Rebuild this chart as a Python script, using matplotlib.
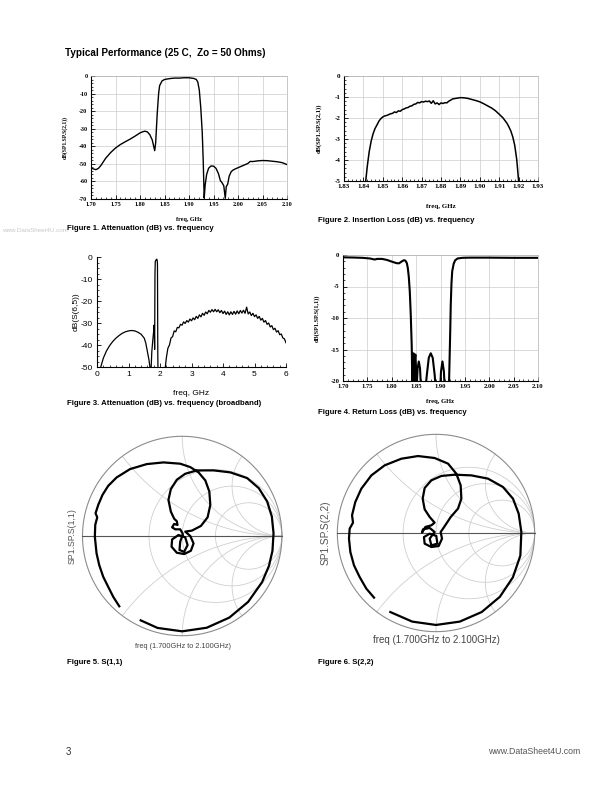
import matplotlib
matplotlib.use('Agg')
import matplotlib.pyplot as plt
import numpy as np
from matplotlib.ticker import MultipleLocator, FormatStrFormatter

plt.rcParams['axes.unicode_minus'] = False

# ---- Figure 1: S21, 1.70-2.10 GHz
fig1_freq = [
    1.700, 1.705, 1.710, 1.715, 1.720, 1.730, 1.740, 1.750, 1.760, 1.770,
    1.780, 1.790, 1.800, 1.805, 1.810, 1.815, 1.820, 1.825, 1.830, 1.832,
    1.835, 1.838, 1.840, 1.845, 1.850, 1.860, 1.870, 1.880, 1.890, 1.900,
    1.910, 1.915, 1.918, 1.921, 1.924, 1.927, 1.929, 1.931, 1.933, 1.936,
    1.940, 1.945, 1.950, 1.955, 1.960, 1.964, 1.968, 1.971, 1.974, 1.976,
    1.979, 1.982, 1.986, 1.990, 1.995, 2.000, 2.010, 2.020, 2.025, 2.030,
    2.040, 2.050, 2.060, 2.070, 2.080, 2.090, 2.100]
fig1_s21 = [
    -52.3, -52.9, -53.3, -52.6, -51.0, -46.8, -43.6, -41.0, -39.0, -37.4,
    -35.9, -34.2, -32.4, -31.8, -31.4, -31.8, -33.4, -36.4, -42.5, -38.0,
    -22.0, -10.0, -5.5, -2.8, -2.0, -1.5, -1.2, -1.2, -1.0, -1.0,
    -1.4, -2.0, -3.5, -8.0, -18.0, -32.0, -48.0, -69.5, -62.0, -56.0,
    -52.5, -51.2, -51.3, -52.5, -55.5, -59.5, -61.0, -62.5, -69.6, -63.0,
    -61.5, -57.0, -54.5, -53.5, -52.8, -52.2, -51.0, -49.8, -48.6, -48.7,
    -48.3, -48.1, -48.2, -48.5, -48.8, -49.3, -50.4]

# ---- Figure 2: insertion loss, 1.83-1.93 GHz
fig2_freq = [
    1.8412, 1.842, 1.843, 1.844, 1.845, 1.846, 1.847, 1.848, 1.849, 1.850,
    1.851, 1.852, 1.853, 1.854, 1.855, 1.856, 1.857, 1.858, 1.859, 1.860,
    1.861, 1.862, 1.863, 1.864, 1.865, 1.866, 1.867, 1.868, 1.869, 1.870,
    1.871, 1.872, 1.873, 1.874, 1.875, 1.876, 1.877, 1.878, 1.879, 1.880,
    1.881, 1.882, 1.883, 1.884, 1.885, 1.886, 1.888, 1.890, 1.892, 1.894,
    1.896, 1.898, 1.900, 1.902, 1.904, 1.906, 1.908, 1.910, 1.912, 1.914,
    1.915, 1.916, 1.917, 1.918, 1.919, 1.9195, 1.920]
fig2_s21 = [
    -5.00, -4.30, -3.60, -3.10, -2.75, -2.50, -2.33, -2.15, -2.03, -1.95,
    -1.90, -1.88, -1.84, -1.80, -1.78, -1.71, -1.74, -1.66, -1.68, -1.60,
    -1.57, -1.52, -1.50, -1.44, -1.42, -1.35, -1.33, -1.26, -1.28, -1.22,
    -1.24, -1.20, -1.22, -1.19, -1.30, -1.18, -1.33, -1.28, -1.36, -1.28,
    -1.31, -1.27, -1.28, -1.20, -1.15, -1.09, -1.06, -1.03, -1.04, -1.07,
    -1.12, -1.17, -1.23, -1.32, -1.42, -1.52, -1.65, -1.82, -2.00, -2.25,
    -2.42, -2.62, -2.90, -3.30, -3.95, -4.45, -5.00]

# ---- Figure 3: broadband S(6,5), 0-6 GHz
fig3_freq = [
    0.05, 0.12, 0.20, 0.30, 0.40, 0.50, 0.60, 0.70, 0.80, 0.90,
    1.00, 1.10, 1.20, 1.30, 1.40, 1.50, 1.55, 1.60, 1.65, 1.68,
    1.70, 1.72, 1.74, 1.77, 1.80, 1.81, 1.82, 1.83, 1.84, 1.85,
    1.88, 1.90, 1.915, 1.92, 1.93, 1.94, 2.10, 2.17,
    2.20, 2.25, 2.30, 2.35, 2.40, 2.45, 2.50, 2.55, 2.60, 2.65,
    2.70, 2.75, 2.80, 2.85, 2.90, 2.95, 3.00, 3.05, 3.10, 3.15,
    3.20, 3.25, 3.30, 3.35, 3.40, 3.45, 3.50, 3.55, 3.60, 3.65,
    3.70, 3.75, 3.80, 3.85, 3.90, 3.95, 4.00, 4.05, 4.10, 4.15,
    4.20, 4.25, 4.30, 4.35, 4.40, 4.45, 4.50, 4.55, 4.60, 4.65,
    4.70, 4.75, 4.80, 4.85, 4.90, 4.95, 5.00, 5.05, 5.10, 5.15,
    5.20, 5.25, 5.30, 5.35, 5.40, 5.45, 5.50, 5.55, 5.60, 5.65,
    5.70, 5.75, 5.80, 5.85, 5.90, 5.95, 6.00]
fig3_s65 = [
    -56.0, -50.0, -46.0, -42.7, -40.3, -38.4, -36.9, -35.7, -34.7, -34.0,
    -33.6, -33.4, -33.6, -34.2, -35.1, -36.9, -39.2, -43.0, -46.8, -50.0,
    -56.0, -50.0, -43.0, -38.0, -33.5, -31.0, -33.5, -42.0, -8.0, -2.0,
    -1.2, -1.0, -2.0, -4.0, -44.0, -56.0, -60.0, -50.0,
    -46.0, -41.5, -40.0, -36.8, -36.2, -33.6, -34.0, -32.0, -32.2, -30.6,
    -31.0, -29.5, -30.2, -28.9, -29.6, -28.2, -29.0, -27.7, -28.5, -27.0,
    -27.9, -26.3, -27.2, -25.6, -26.5, -25.0, -25.8, -24.3, -25.1, -23.9,
    -24.9, -23.8, -24.9, -24.0, -25.3, -24.3, -25.7, -24.6, -26.1, -24.9,
    -26.3, -24.9, -26.1, -24.7, -26.0, -24.5, -25.8, -24.3, -25.5, -24.2,
    -25.6, -22.8, -25.9, -25.0, -26.6, -25.6, -27.1, -26.3, -27.9, -27.0,
    -28.7, -27.9, -29.6, -28.9, -30.6, -30.0, -31.8, -31.2, -33.0, -32.4,
    -34.1, -33.5, -35.3, -35.0, -36.8, -37.2, -39.0]

# ---- Figure 4: return loss, 1.70-2.10 GHz
fig4_freq = [
    1.700, 1.720, 1.740, 1.755, 1.765, 1.770, 1.780, 1.790, 1.800, 1.810,
    1.815, 1.820, 1.825, 1.828, 1.831, 1.833, 1.835, 1.837, 1.839, 1.841,
    1.8425, 1.8435, 1.8445, 1.8455, 1.8465, 1.8475, 1.8485, 1.8495, 1.8505, 1.853,
    1.8555, 1.858, 1.8605, 1.868, 1.872, 1.876, 1.880, 1.884, 1.888, 1.891,
    1.899, 1.901, 1.904, 1.907, 1.909, 1.917, 1.9185, 1.920, 1.921, 1.9225,
    1.924, 1.927, 1.930, 1.935, 1.945, 1.960, 2.000, 2.050, 2.100]
fig4_s11 = [
    -0.37, -0.40, -0.45, -0.55, -0.72, -0.62, -0.62, -0.78, -1.05, -1.30,
    -1.32, -1.05, -0.82, -0.90, -1.30, -2.1, -3.5, -5.8, -9.5, -14.5,
    -22.0, -17.0, -15.6, -17.5, -22.0, -16.5, -15.8, -17.5, -22.0, -18.0,
    -16.9, -18.0, -22.0, -22.0, -19.0, -16.3, -15.6, -16.3, -19.0, -22.0,
    -22.0, -18.5, -16.9, -18.5, -22.0, -22.0, -17.0, -12.0, -8.0, -4.5,
    -2.6, -1.4, -0.85, -0.55, -0.45, -0.42, -0.42, -0.45, -0.45]

# ---- Figure 5: S(1,1) on Smith chart (reflection coefficient)
s11_re = [
    -0.631, -0.691, -0.742, -0.792, -0.832, -0.859, -0.876, -0.872, -0.852, -0.869,
    -0.842, -0.799, -0.742, -0.658, -0.523, -0.356, -0.188, -0.020, 0.081, 0.164,
    0.232, 0.272, 0.282, 0.255, 0.188, 0.097, 0.030, 0.081, 0.114, 0.087,
    0.020, -0.054, -0.107, -0.101, -0.037, 0.030, 0.054, 0.020, -0.027, -0.020,
    0.007, -0.020, -0.070, -0.101, -0.081, -0.047, -0.054, -0.081, -0.114, -0.138,
    -0.114, -0.054, 0.030, 0.148, 0.315, 0.483, 0.651, 0.768, 0.852, 0.899,
    0.916, 0.905, 0.870, 0.801, 0.661, 0.473, 0.246, 0.000, -0.247, -0.416]
s11_im = [
    -0.705, -0.611, -0.510, -0.409, -0.292, -0.174, -0.007, 0.111, 0.188, 0.228,
    0.312, 0.413, 0.503, 0.587, 0.671, 0.721, 0.738, 0.725, 0.691, 0.638,
    0.557, 0.446, 0.312, 0.188, 0.101, 0.054, 0.044, 0.000, -0.074, -0.148,
    -0.181, -0.168, -0.107, -0.034, 0.010, -0.013, -0.091, -0.158, -0.141, -0.057,
    0.020, 0.067, 0.067, 0.087, 0.121, 0.111, 0.148, 0.174, 0.245, 0.362,
    0.470, 0.564, 0.624, 0.658, 0.658, 0.638, 0.581, 0.480, 0.346, 0.195,
    0.027, -0.150, -0.300, -0.463, -0.661, -0.818, -0.920, -0.956, -0.922, -0.846]

# ---- Figure 6: S(2,2)
s22_re = [
    -0.628, -0.706, -0.774, -0.831, -0.868, -0.882, -0.875, -0.841, -0.851, -0.818,
    -0.757, -0.655, -0.520, -0.351, -0.182, -0.014, 0.122, 0.206, 0.250, 0.257,
    0.223, 0.149, 0.105, 0.071, 0.047, 0.061, 0.027, -0.047, -0.115, -0.122,
    -0.064, 0.003, 0.014, -0.047, -0.064, -0.014, -0.064, -0.132, -0.142, -0.108,
    -0.047, -0.014, -0.064, -0.115, -0.135, -0.115, -0.047, 0.054, 0.189, 0.358,
    0.527, 0.679, 0.780, 0.838, 0.865, 0.855, 0.779, 0.647, 0.463, 0.241,
    0.000, -0.241, -0.463]
s22_im = [
    -0.655, -0.564, -0.446, -0.328, -0.193, -0.057, 0.044, 0.105, 0.179, 0.314,
    0.449, 0.584, 0.686, 0.753, 0.780, 0.760, 0.703, 0.601, 0.483, 0.348,
    0.247, 0.162, 0.095, 0.044, 0.010, -0.057, -0.132, -0.142, -0.108, -0.041,
    -0.007, -0.030, -0.108, -0.125, -0.057, 0.010, 0.051, 0.037, 0.003, 0.061,
    0.078, 0.105, 0.162, 0.240, 0.348, 0.456, 0.534, 0.578, 0.591, 0.584,
    0.551, 0.466, 0.348, 0.196, 0.010, -0.229, -0.450, -0.647, -0.801, -0.898,
    -0.932, -0.898, -0.801]

smith_r = [0.5, 1.0, 2.0]
smith_x = [0.5, 1.0, 2.0]

W, H = 612, 792
BOLDSANS = 'Liberation Sans'
SERIF = 'Liberation Serif'
SANS = 'Liberation Sans'


def box(left, top, right, bottom):
    return [left / W, 1 - bottom / H, (right - left) / W, (bottom - top) / H]


def put(fig, x, y, s, **kw):
    return fig.text(x / W, 1 - y / H, s, **kw)


def ads_axes(ax, xlim, ylim, xstep, ystep, xfmt, ylabel, size, ylab_x, xlab_y):
    ax.set_xlim(*xlim)
    ax.set_ylim(*ylim)
    ax.xaxis.set_major_locator(MultipleLocator(xstep))
    ax.yaxis.set_major_locator(MultipleLocator(ystep))
    ax.xaxis.set_minor_locator(MultipleLocator(xstep / 5))
    ax.yaxis.set_minor_locator(MultipleLocator(ystep / 5))
    ax.xaxis.set_major_formatter(FormatStrFormatter(xfmt))
    ax.yaxis.set_major_formatter(FormatStrFormatter('%d'))
    ax.grid(True, which='major', color='#cccccc', lw=0.5)
    ax.tick_params(which='major', direction='in', length=3, width=0.6, pad=2.5)
    ax.tick_params(which='minor', direction='in', length=1.5, width=0.5)
    ax.tick_params(top=False, right=False, which='both')
    for side in ['top', 'right']:
        ax.spines[side].set_color('#b0b0b0')
        ax.spines[side].set_linewidth(0.5)
    for side in ['left', 'bottom']:
        ax.spines[side].set_linewidth(0.8)
    for lab in ax.get_xticklabels() + ax.get_yticklabels():
        lab.set_fontfamily(SERIF)
        lab.set_fontweight('bold')
        lab.set_fontsize(size)
    ax.set_ylabel(ylabel, family=SERIF, fontweight='bold', fontsize=size - 0.3)
    ax.yaxis.set_label_coords(ylab_x, 0.5)
    ax.set_xlabel('freq, GHz', family=SERIF, fontweight='bold', fontsize=size)
    ax.xaxis.set_label_coords(0.5, xlab_y)


def smith_axes(ax, re, im):
    ax.set_xlim(-1.05, 1.05)
    ax.set_ylim(-1.05, 1.05)
    ax.set_aspect('equal')
    ax.axis('off')
    t = np.linspace(-np.pi / 2 + 1e-3, np.pi / 2 - 1e-3, 600)
    for r in smith_r:
        g = (r + 1j * np.tan(t) - 1) / (r + 1j * np.tan(t) + 1)
        ax.plot(g.real, g.imag, color='#cfcfcf', lw=0.6)
    s = np.linspace(0, np.pi / 2 - 1e-3, 600)
    for x in smith_x:
        for sign in (1, -1):
            z = np.tan(s) + 1j * sign * x
            g = (z - 1) / (z + 1)
            ax.plot(g.real, g.imag, color='#cfcfcf', lw=0.6)
    z = 1j * np.tan(t)
    g = (z - 1) / (z + 1)
    ax.plot(g.real, g.imag, color='#8c8c8c', lw=0.8)
    ax.plot([-1, 1], [0, 0], color='#555555', lw=0.8)
    ax.plot(re, im, color='black', lw=1.6, solid_joinstyle='round')


fig = plt.figure(figsize=(6.12, 7.92), dpi=100)

# Figure 1
ax1 = fig.add_axes(box(91, 76, 287, 199))
ax1.plot(fig1_freq, fig1_s21, color='black', lw=1.0)
ads_axes(ax1, (1.70, 2.10), (-70, 0), 0.05, 10, '%.2f', 'dB(SP1.SP.S(2,1))', 4.4, -0.12, -0.15)

# Figure 2
ax2 = fig.add_axes(box(344, 76, 538, 181))
ax2.plot(fig2_freq, fig2_s21, color='black', lw=1.1)
ads_axes(ax2, (1.83, 1.93), (-5, 0), 0.01, 1, '%.2f', 'dB(SP1.SP.S(2,1))', 5.0, -0.115, -0.22)

# Figure 3
ax3 = fig.add_axes(box(97, 257, 286, 367))
ax3.plot(fig3_freq, fig3_s65, color='black', lw=0.9)
ax3.set_xlim(0, 6)
ax3.set_ylim(-50, 0)
ax3.xaxis.set_major_locator(MultipleLocator(1))
ax3.xaxis.set_minor_locator(MultipleLocator(0.2))
ax3.yaxis.set_major_locator(MultipleLocator(10))
ax3.yaxis.set_minor_locator(MultipleLocator(2.5))
ax3.spines['top'].set_visible(False)
ax3.spines['right'].set_visible(False)
ax3.tick_params(which='major', direction='in', length=3, width=0.6, labelsize=6, pad=3)
ax3.tick_params(which='minor', direction='in', length=1.5, width=0.5)
for lab in ax3.get_xticklabels() + ax3.get_yticklabels():
    lab.set_fontfamily(SANS)
ax3.set_ylabel('dB(S(6,5))', family=SANS, fontsize=6)
ax3.yaxis.set_label_coords(-0.09, 0.5)
ax3.set_xlabel('freq, GHz', family=SANS, fontsize=6)
ax3.xaxis.set_label_coords(0.5, -0.21)

# Figure 4
ax4 = fig.add_axes(box(343, 255, 538, 381))
ax4.plot(fig4_freq, fig4_s11, color='black', lw=1.5)
ads_axes(ax4, (1.70, 2.10), (-20, 0), 0.05, 5, '%.2f', 'dB(SP1.SP.S(1,1))', 4.8, -0.118, -0.145)

# Figures 5 and 6
ax5 = fig.add_axes(box(182.2 - 104.7, 536 - 104.7, 182.2 + 104.7, 536 + 104.7))
smith_axes(ax5, s11_re, s11_im)
ax6 = fig.add_axes(box(436 - 103.6, 533 - 103.6, 436 + 103.6, 533 + 103.6))
smith_axes(ax6, s22_re, s22_im)

put(fig, 72, 536, 'SP1.SP.S(1,1)', rotation=90, ha='center', va='center',
    family=SANS, fontsize=6.3, color='#555555')
put(fig, 183, 647, 'freq (1.700GHz to 2.100GHz)', ha='center', va='center',
    family=SANS, fontsize=5.3, color='#444444')
put(fig, 326, 533, 'SP1.SP.S(2,2)', rotation=90, ha='center', va='center',
    family=SANS, fontsize=7.3, color='#555555')
put(fig, 436, 640, 'freq (1.700GHz to 2.100GHz)', ha='center', va='center',
    family=SANS, fontsize=7, color='#444444')

# page text
put(fig, 65, 53, 'Typical Performance (25 C,  Zo = 50 Ohms)', family=BOLDSANS,
    fontweight='bold', fontsize=7.1, va='center')
put(fig, 2, 230, 'www.DataSheet4U.com', family=SANS, fontsize=4.5,
    color='#c8c8c8', va='center')

captions = [
    ('Figure 1. Attenuation (dB) vs. frequency', 67, 229),
    ('Figure 2. Insertion Loss (dB) vs. frequency', 318, 221),
    ('Figure 3. Attenuation (dB) vs. frequency (broadband)', 67, 404),
    ('Figure 4. Return Loss (dB) vs. frequency', 318, 412),
    ('Figure 5. S(1,1)', 67, 662),
    ('Figure 6. S(2,2)', 318, 662),
]
for text, x, y in captions:
    put(fig, x, y, text, family=BOLDSANS, fontweight='bold', fontsize=5.6, va='center')

put(fig, 66, 752, '3', family=SANS, fontsize=7, color='#333333', va='center')
put(fig, 580, 752, 'www.DataSheet4U.com', family=SANS, fontsize=6.3, color='#555555',
    va='center', ha='right')

fig.savefig('out.png', dpi=100)
